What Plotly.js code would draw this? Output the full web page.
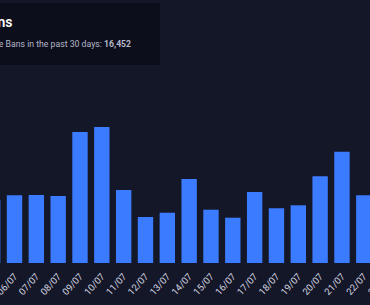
<!DOCTYPE html>
<html>
<head>
<meta charset="utf-8">
<script src="https://cdn.plot.ly/plotly-3.0.1.min.js"></script>
<style>
  html, body { margin: 0; padding: 0; width: 370px; height: 305px; overflow: hidden; background: #141727; }
  #chart { position: absolute; left: -35px; top: 0; width: 440px; height: 305px; }
</style>
</head>
<body>
<div id="chart"></div>
<script>
const days = ["05/07","06/07","07/07","08/07","09/07","10/07","11/07","12/07","13/07","14/07",
              "15/07","16/07","17/07","18/07","19/07","20/07","21/07","22/07","23/07"];
const bans = [441, 474, 476, 469, 917, 952, 511, 322, 352, 588,
              373, 317, 497, 383, 404, 607, 779, 474, null];
const titleText = "Bans";
const subtitleText = "Total Game Bans in the past 30 days: ";
const totalText = "16,452";

const W = 440, H = 305, mT = 70, mB = 42;
const plotH = H - mT - mB;
const py = p => (H - mB - p) / plotH;   // page y -> paper y
const px = p => (p + 35) / W;           // page x -> paper x

const trace = {
  type: "bar",
  x: days,
  y: bans,
  marker: { color: "#3b7bff" },
  hoverinfo: "none"
};

const layout = {
  width: W, height: H,
  margin: { l: 0, r: 0, t: mT, b: mB, pad: 0 },
  paper_bgcolor: "#141727",
  plot_bgcolor: "#141727",
  bargap: 0.295,
  showlegend: false,
  font: { family: "Roboto, sans-serif", color: "#d4d6e2" },
  xaxis: {
    type: "category",
    categoryorder: "array",
    categoryarray: days,
    range: [-1.2675, 18.888],
    showgrid: false, zeroline: false, showline: false, ticks: "",
    tickangle: -48,
    ticklabelstandoff: 5,
    tickfont: { size: 9.5, color: "#d4d6e2", family: "Roboto, sans-serif" },
    fixedrange: true
  },
  yaxis: { visible: false, range: [0, plotH * 7], fixedrange: true },
  shapes: [{
    type: "rect", xref: "paper", yref: "paper",
    x0: px(-20), x1: px(160), y0: py(65), y1: py(3),
    fillcolor: "#0d0e1c", line: { width: 0 }, layer: "below"
  }],
  annotations: [
    {
      xref: "paper", yref: "paper", x: px(14), y: py(22),
      xanchor: "right", yanchor: "middle", showarrow: false,
      text: titleText,
      font: { size: 14, color: "#ffffff", family: "Roboto, sans-serif", weight: 600 }
    },
    {
      xref: "paper", yref: "paper", x: px(133), y: py(44),
      xanchor: "right", yanchor: "middle", showarrow: false,
      text: subtitleText + "<b>" + totalText + "</b>",
      font: { size: 8.7, color: "#b4b7c8", family: "Roboto, sans-serif" }
    }
  ]
};

Plotly.newPlot("chart", [trace], layout, { displayModeBar: false, staticPlot: true });
</script>
</body>
</html>
